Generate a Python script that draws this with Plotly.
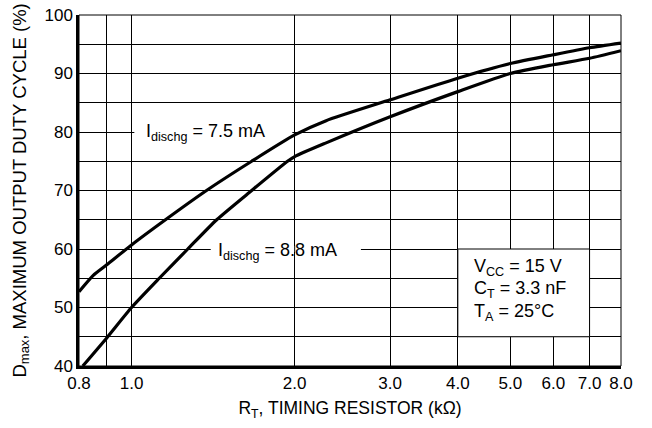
import math
import plotly.graph_objects as go

# ---- data ----
rt_7p5 = [0.8, 0.85, 0.9, 1.0, 1.155, 1.375, 1.666, 2.0, 2.28, 3.0, 4.0, 5.0, 6.0, 7.0, 8.0]
d_7p5 = [52.7, 55.5, 57.3, 60.7, 65.0, 70.0, 75.0, 79.5, 81.9, 85.5, 89.2, 91.7, 93.2, 94.4, 95.2]

rt_8p8 = [0.813, 0.9, 1.0, 1.125, 1.27, 1.436, 1.666, 1.94, 2.0, 2.28, 3.0, 4.0, 5.0, 6.0, 7.0, 8.0]
d_8p8 = [40.0, 44.8, 50.0, 55.0, 60.0, 65.0, 70.0, 75.0, 75.8, 78.1, 82.6, 86.9, 90.0, 91.5, 92.6, 93.9]

x_tickvals = [0.8, 0.9, 1.0, 2.0, 3.0, 4.0, 5.0, 6.0, 7.0, 8.0]
x_ticktext = ["0.8", "", "1.0", "2.0", "3.0", "4.0", "5.0", "6.0", "7.0", "8.0"]
y_tickvals = [40, 45, 50, 55, 60, 65, 70, 75, 80, 85, 90, 95, 100]
y_ticktext = ["40", "", "50", "", "60", "", "70", "", "80", "", "90", "", "100"]

FONT = "Liberation Sans, Arial, sans-serif"

W, H = 652, 428
ML, MR, MT, MB = 79, 31, 15, 62
PW = W - ML - MR

fig = go.Figure()
for xs, ys in [(rt_7p5, d_7p5), (rt_8p8, d_8p8)]:
    fig.add_trace(go.Scatter(x=xs, y=ys, mode="lines",
                             line=dict(color="black", width=3.2, shape="spline", smoothing=0.6),
                             showlegend=False, hoverinfo="skip"))

shapes = [
    dict(type="rect", xref="paper", yref="paper", x0=0, x1=1, y0=0, y1=1,
         line=dict(color="black", width=1), layer="between"),
    dict(type="rect", xref="x", yref="y", x0=1.012, x1=1.98, y0=79.5, y1=80.5,
         fillcolor="white", line=dict(width=0), layer="between"),
    dict(type="rect", xref="x", yref="y", x0=1.40, x1=2.65, y0=59.5, y1=60.5,
         fillcolor="white", line=dict(width=0), layer="between"),
    dict(type="line", xref="x", yref="y", x0=2.0, x1=2.0, y0=59.4, y1=60.6,
         line=dict(color="black", width=1), layer="between"),
    dict(type="rect", xref="x", yref="y", x0=4.0, x1=7.0, y0=45, y1=60,
         fillcolor="white", line=dict(color="black", width=1), layer="between"),
]

annots = [
    dict(x=1.37, y=80, text="I<sub>dischg</sub> = 7.5 mA"),
    dict(x=1.86, y=59.6, text="I<sub>dischg</sub> = 8.8 mA"),
    dict(x=4.24, y=56.9, text="V<sub>CC</sub> = 15 V", xanchor="left"),
    dict(x=4.24, y=53.0, text="C<sub>T</sub> = 3.3 nF", xanchor="left"),
    dict(x=4.24, y=49.2, text="T<sub>A</sub> = 25°C", xanchor="left"),
]
for a in annots:
    a.update(xref="x", yref="y", showarrow=False, font=dict(size=18))
    a["x"] = math.log10(a["x"])

# y-axis title as a rotated annotation for precise placement
annots.append(dict(xref="paper", yref="paper", x=-(ML - 20) / PW, y=0.5,
                   xanchor="center", yanchor="middle", textangle=-90, showarrow=False,
                   text="D<sub>max</sub>, MAXIMUM OUTPUT DUTY CYCLE (%)", font=dict(size=18.5)))

fig.update_layout(
    width=W, height=H,
    margin=dict(l=ML, r=MR, t=MT, b=MB, autoexpand=False),
    paper_bgcolor="white", plot_bgcolor="white",
    font=dict(family=FONT, size=17, color="black"),
    shapes=shapes, annotations=annots,
)
fig.update_xaxes(type="log", range=[math.log10(0.8), math.log10(8.0)], automargin=False,
                 tickmode="array", tickvals=x_tickvals, ticktext=x_ticktext,
                 showgrid=True, gridcolor="black", gridwidth=1, zeroline=False,
                 showline=True, linecolor="black", linewidth=2.5, ticks="",
                 ticklabeloverflow="allow",
                 title=dict(text="R<sub>T</sub>, TIMING RESISTOR (kΩ)", font=dict(size=17.5), standoff=10))
fig.update_yaxes(range=[40, 100], automargin=False, tickmode="array", tickvals=y_tickvals, ticktext=y_ticktext,
                 showgrid=True, gridcolor="black", gridwidth=1, zeroline=False,
                 showline=True, linecolor="black", linewidth=2.5, ticks="",
                 ticklabeloverflow="allow")

fig.write_html("out.html", config={"displayModeBar": False},
               post_script="document.body.style.margin='0px';")
